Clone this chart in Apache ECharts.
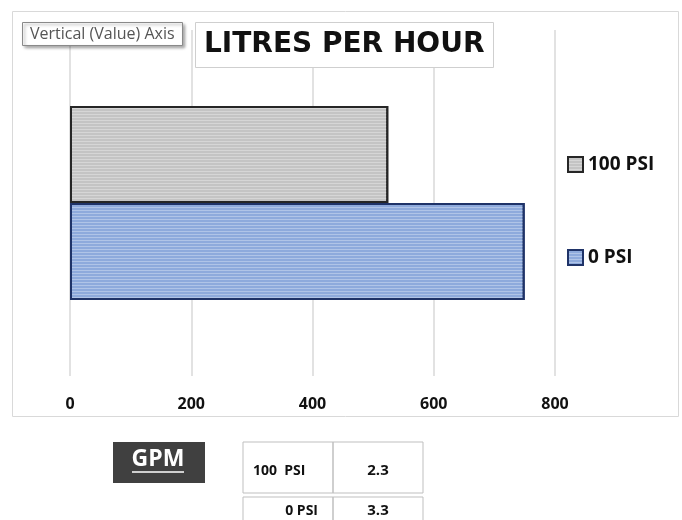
<!DOCTYPE html>
<html>
<head>
    <meta charset="utf-8">
    <title>Litres per hour</title>
    <script src="https://cdn.jsdelivr.net/npm/echarts@6/dist/echarts.min.js"></script>
    <style>
        html, body { margin: 0; padding: 0; background: #fff; }
    </style>
</head>
<body>
    <div id="main" style="width: 682px;height:520px;"></div>

<script>
// data
var seriesNames = ['100 PSI', '0 PSI'];
var litresPerHour = [525, 750];
var xTicks = [0, 200, 400, 600, 800];
var gpmLabels = ['100  PSI', '0 PSI'];
var gpmValues = ['2.3', '3.3'];

var colors = {
    '0 PSI': { fill: '#8eaadc', edge: '#1f3368' },
    '100 PSI': { fill: '#c4c4c4', edge: '#262626' }
};

var myChart = echarts.init(document.getElementById('main'));

var series = seriesNames.map(function (name, i) {
    return {
        name: name,
        type: 'bar',
        barWidth: 97,
        barGap: '0%',
        data: [litresPerHour[i]],
        itemStyle: {
            color: colors[name].fill,
            borderColor: colors[name].edge,
            borderWidth: 2,
            decal: {
                symbol: 'rect',
                symbolSize: 1,
                rotation: 0,
                dashArrayX: [1, 0],
                dashArrayY: [1, 2],
                color: 'rgba(255,255,255,0.3)'
            }
        }
    };
});

// little GPM table under the chart
var tableX = 243, colW = [90, 90];
var rowTop = [442, 497], rowBottom = [493, 530], textY = [471, 511];
var table = [];
table.push({
    type: 'rect', shape: { x: 113, y: 442, width: 92, height: 41 },
    style: { fill: '#404040' }
});
table.push({
    type: 'text', x: 158, y: 459,
    style: { text: 'GPM', fill: '#fff', font: 'bold 23px "Open Sans"', align: 'center', verticalAlign: 'middle' }
});
table.push({
    type: 'line', shape: { x1: 132, y1: 472, x2: 184, y2: 472 },
    style: { stroke: '#fff', lineWidth: 1.5 }
});
gpmLabels.forEach(function (lab, r) {
    var h = rowBottom[r] - rowTop[r];
    table.push({
        type: 'rect', shape: { x: tableX, y: rowTop[r], width: colW[0], height: h },
        style: { fill: 'none', stroke: '#bfbfbf', lineWidth: 1 }
    });
    table.push({
        type: 'rect', shape: { x: tableX + colW[0], y: rowTop[r], width: colW[1], height: h },
        style: { fill: 'none', stroke: '#bfbfbf', lineWidth: 1 }
    });
    table.push({
        type: 'text', x: r === 0 ? tableX + 10 : tableX + 75, y: textY[r],
        style: { text: lab, fill: '#111', font: 'bold 14px "Open Sans"', align: r === 0 ? 'left' : 'right', verticalAlign: 'middle' }
    });
    table.push({
        type: 'text', x: tableX + colW[0] + colW[1] / 2, y: textY[r],
        style: { text: gpmValues[r], fill: '#111', font: 'bold 15px "Open Sans"', align: 'center', verticalAlign: 'middle' }
    });
});

myChart.setOption({
    animation: false,
    aria: { enabled: true, decal: { show: true } },
    title: [
        {
            text: 'LITRES PER HOUR',
            left: 195,
            top: 22,
            padding: [9, 9, 9, 9],
            borderColor: '#cfcfcf',
            borderWidth: 1,
            backgroundColor: '#fff',
            textStyle: {
                fontFamily: 'DejaVu Sans',
                fontWeight: 'bold',
                fontSize: 28,
                color: '#111'
            },
            z: 10
        },
        {
            text: 'Vertical (Value) Axis',
            left: 22,
            top: 22,
            padding: [4, 8, 4, 8],
            borderColor: '#8a8a8a',
            borderWidth: 1,
            backgroundColor: '#fff',
            shadowColor: 'rgba(0,0,0,0.35)',
            shadowBlur: 3,
            shadowOffsetX: 2,
            shadowOffsetY: 2,
            textStyle: {
                fontFamily: 'Open Sans',
                fontWeight: 'normal',
                fontSize: 16,
                color: '#555'
            },
            z: 10
        }
    ],
    legend: {
        orient: 'vertical',
        left: 562,
        top: 150,
        itemGap: 74,
        itemWidth: 15,
        itemHeight: 15,
        icon: 'rect',
        data: ['100 PSI', '0 PSI'],
        textStyle: {
            fontFamily: 'Open Sans',
            fontWeight: 'bold',
            fontSize: 19,
            color: '#111'
        }
    },
    grid: {
        left: 70,
        right: 127,
        top: 30,
        bottom: 144
    },
    xAxis: {
        type: 'value',
        min: xTicks[0],
        max: xTicks[xTicks.length - 1],
        interval: xTicks[1] - xTicks[0],
        axisLine: { show: false },
        axisTick: { show: false },
        splitLine: { lineStyle: { color: '#d9d9d9', width: 1.5 } },
        axisLabel: {
            margin: 20,
            fontFamily: 'Open Sans',
            fontWeight: 'bold',
            fontSize: 16,
            color: '#111'
        }
    },
    yAxis: {
        type: 'category',
        data: ['L/h'],
        show: false
    },
    series: series,
    graphic: [
        {
            type: 'rect',
            shape: { x: 12.5, y: 11.5, width: 666, height: 405 },
            style: { fill: 'none', stroke: '#d9d9d9', lineWidth: 1 },
            silent: true
        }
    ].concat(table)
});
</script>

</body>
</html>
